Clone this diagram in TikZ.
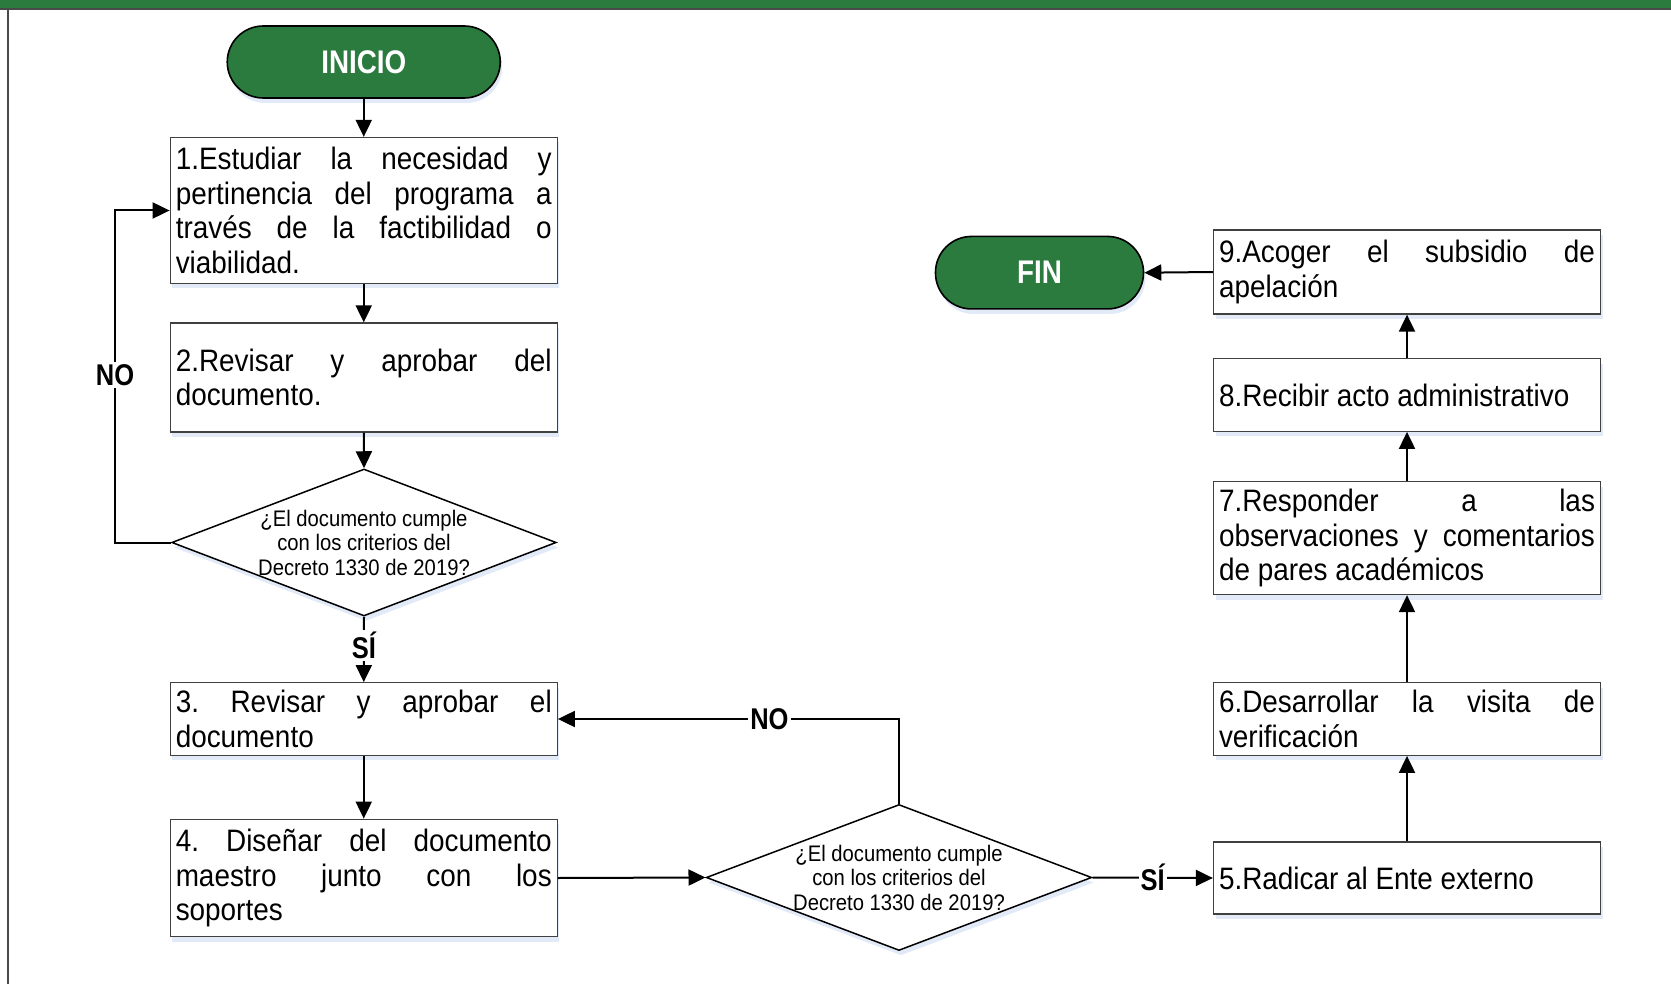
\documentclass[tikz,border=0pt]{standalone}
\usepackage{fontspec}
\setmainfont{Liberation Sans}
\newfontfamily\boxfam{Liberation Sans}[FakeStretch=0.9]
\newfontfamily\labfam{Liberation Sans}[FakeStretch=0.85]
\usetikzlibrary{arrows.meta,shapes.geometric,shadows}
\definecolor{ugreen}{HTML}{2B7B3E}
\definecolor{boxgray}{HTML}{404040}
\definecolor{framegray}{HTML}{4A4A4A}
\definecolor{shadowblue}{HTML}{C9D8EE}
\newcommand{\boxtext}{\boxfam\fontsize{31}{34.5}\selectfont\frenchspacing\tolerance=10000\hyphenpenalty=10000}
\newcommand{\dectext}{\boxfam\fontsize{22.5}{24.5}\selectfont}
\tikzset{
  shad/.style={drop shadow={shadow xshift=2pt, shadow yshift=-5pt, fill=shadowblue, opacity=0.55}},
  stepbox/.style={draw=boxgray, line width=1.3pt, fill=white, shad, text width=376pt, inner xsep=5.5pt, inner ysep=0pt, align=justify, font=\boxtext},
  term/.style={draw=black, line width=1.6pt, fill=ugreen, shad, rounded corners=36pt, inner sep=0pt, text=white, font=\labfam\bfseries\fontsize{32.7}{36}\selectfont},
  dec/.style={diamond, draw=black, line width=1.5pt, fill=white, shad, inner sep=0pt},
  dectxt/.style={align=center, font=\dectext, inner sep=0pt},
  arr/.style={line width=2pt, -{Triangle[length=17pt,width=16pt]}},
  lab/.style={fill=white, inner sep=2pt, font=\labfam\bfseries\fontsize{30}{32}\selectfont},
}
\begin{document}
\begin{tikzpicture}[x=1pt,y=-1pt]
\useasboundingbox (0,0) rectangle (1671,984);
% frame
\fill[ugreen] (0,0) rectangle (1671,8.5);
\fill[framegray] (0,8.5) rectangle (1671,10.5);
\fill[framegray] (6.5,10.5) rectangle (8.8,984);
% terminals
\node[term, minimum width=273pt, minimum height=72pt] (ini) at (363.75,62) {INICIO};
\node[term, minimum width=208pt, minimum height=72.5pt] (fin) at (1039.5,272.7) {FIN};
% left column
\node[stepbox, minimum height=146pt] (b1) at (363.75,210.5) {1.Estudiar la necesidad y\linebreak pertinencia del programa a\linebreak través de la factibilidad o\linebreak viabilidad.};
\node[stepbox, minimum height=109pt] (b2) at (363.75,377.5) {2.Revisar y aprobar del\linebreak documento.};
\node[dec, minimum width=384.5pt, minimum height=147pt] (d1) at (364,542.5) {};
\node[dectxt] (t1) at (d1.center) {¿El documento cumple\\con los criterios del\\Decreto 1330 de 2019?};
\node[stepbox, minimum height=72.5pt] (b3) at (363.75,719) {3. Revisar y aprobar el\linebreak documento};
\node[stepbox, minimum height=117.5pt] (b4) at (363.75,878) {4. Diseñar del documento\linebreak maestro junto con los\linebreak soportes};
% middle decision
\node[dec, minimum width=385.5pt, minimum height=146pt] (d2) at (899,877.5) {};
\node[dectxt] (t2) at (d2.center) {¿El documento cumple\\con los criterios del\\Decreto 1330 de 2019?};
% right column
\node[stepbox, minimum height=72pt] (b5) at (1407,878) {5.Radicar al Ente externo};
\node[stepbox, minimum height=72.5pt] (b6) at (1407,719) {6.Desarrollar la visita de\linebreak verificación};
\node[stepbox, minimum height=113pt] (b7) at (1407,538) {7.Responder a las\linebreak observaciones y comentarios\linebreak de pares académicos};
\node[stepbox, minimum height=72.5pt] (b8) at (1407,395) {8.Recibir acto administrativo};
\node[stepbox, minimum height=84pt] (b9) at (1407,272) {9.Acoger el subsidio de\linebreak apelación};
% connectors
\draw[arr] (ini.south) -- (b1.north);
\draw[arr] (b1.south) -- (b2.north);
\draw[arr] (b2.south) -- (d1.north);
\draw[arr] (d1.south) -- (b3.north) node[lab, midway, yshift=4pt] {SÍ};
\coordinate (lp) at (115,375);
\draw[arr] (d1.west) -| (lp) |- (b1.west);
\node[lab] (nol) at (lp) {NO};
\draw[arr] (b3.south) -- (b4.north);
\draw[arr] (b4.east) -- (d2.west);
\draw[arr] (d2.north) |- (b3.east) node[lab, pos=0.69] {NO};
\draw[arr] (d2.east) -- (b5.west) node[lab, midway] {SÍ};
\draw[arr] (b5.north) -- (b6.south);
\draw[arr] (b6.north) -- (b7.south);
\draw[arr] (b7.north) -- (b8.south);
\draw[arr] (b8.north) -- (b9.south);
\draw[arr] (b9.west) -- (fin.east);
\end{tikzpicture}
\end{document}
